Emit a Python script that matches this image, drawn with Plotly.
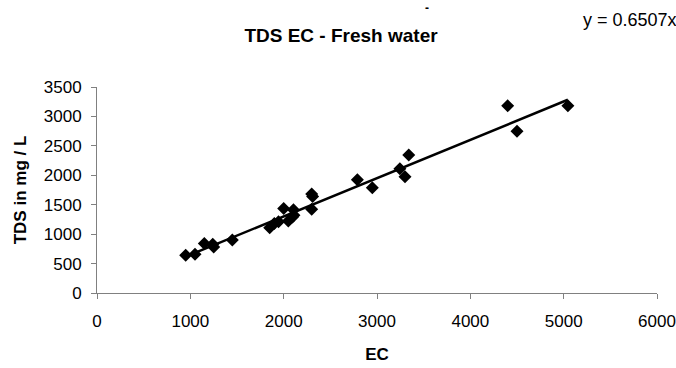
import plotly.graph_objects as go

ec = [950, 1050, 1150, 1240, 1250, 1450, 1850, 1900, 1945, 2000, 2050, 2095, 2110, 2105,
      2300, 2310, 2300, 2790, 2950, 3245, 3300, 3340, 4400, 4500, 5045]
tds = [640, 660, 840, 830, 780, 900, 1110, 1180, 1210, 1435, 1225, 1290, 1320, 1415,
       1680, 1640, 1425, 1925, 1790, 2110, 1975, 2345, 3180, 2750, 3180]
slope = 0.6507
x_ticks = [0, 1000, 2000, 3000, 4000, 5000, 6000]
y_ticks = [0, 500, 1000, 1500, 2000, 2500, 3000, 3500]

line_x = [min(ec), max(ec)]
line_y = [slope * v for v in line_x]

font = "Liberation Sans, Arial, sans-serif"
fig = go.Figure()
fig.add_trace(go.Scatter(x=line_x, y=line_y, mode="lines",
                         line=dict(color="black", width=2.5), showlegend=False))
fig.add_trace(go.Scatter(x=ec, y=tds, mode="markers",
                         marker=dict(symbol="diamond", size=10, color="black"),
                         showlegend=False))
fig.update_layout(
    width=676, height=368,
    margin=dict(l=97, r=19, t=87, b=75),
    paper_bgcolor="white", plot_bgcolor="white",
    font=dict(family=font, size=17, color="black"),
    title=dict(text="<b>TDS EC - Fresh water</b>", x=341 / 676, xanchor="center",
               y=1 - 35 / 368, yanchor="middle", font=dict(size=19)),
    xaxis=dict(range=[0, 6000], tickvals=x_ticks, showgrid=False, zeroline=False,
               showline=True, linecolor="#808080", linewidth=1, automargin=False,
               ticks="outside", ticklen=5, tickcolor="#808080", ticklabelstandoff=8,
               title=dict(text="<b>EC</b>", font=dict(size=17), standoff=17)),
    yaxis=dict(range=[0, 3500], tickvals=y_ticks, showgrid=False, zeroline=False,
               showline=True, linecolor="#808080", linewidth=1, automargin=False,
               ticks="outside", ticklen=5, tickcolor="#808080", ticklabelstandoff=6,
               title=dict(text="<b>TDS in mg / L</b>", font=dict(size=17), standoff=12)),
)
fig.add_annotation(text="y = 0.6507x", xref="paper", yref="paper",
                   x=1.0, y=1.0, xanchor="right", yanchor="middle",
                   xshift=22, yshift=87 - 20,
                   showarrow=False, font=dict(size=18))
fig.add_annotation(text="<b>-</b>", xref="paper", yref="paper",
                   x=(427 - 97) / 560, y=1.0, xanchor="center", yanchor="middle",
                   yshift=87 - 8, showarrow=False, font=dict(size=12))
fig.write_html("out.html")
